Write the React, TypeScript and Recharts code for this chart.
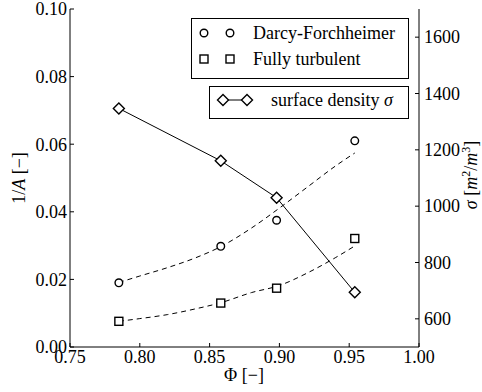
import { ComposedChart, Line, Scatter, XAxis, YAxis } from "recharts";

const FONT = '"Liberation Serif", "Times New Roman", serif';
const FS = 18;

// measured points
const phi = [0.785, 0.858, 0.898, 0.954];
const darcy = [0.019, 0.0298, 0.0375, 0.061];
const turbulent = [0.0076, 0.013, 0.0174, 0.0321];
const sigma = [1347, 1161, 1030, 694];

// dashed fit curves
const fitPhi = [0.785, 0.8, 0.82, 0.84, 0.858, 0.88, 0.9, 0.92, 0.94, 0.954];
const darcyFit = [0.0191, 0.021, 0.0235, 0.0264, 0.0297, 0.0352, 0.0411, 0.0473, 0.0535, 0.0574];
const turbulentFit = [0.0076, 0.0084, 0.0096, 0.0113, 0.0131, 0.0161, 0.0182, 0.0219, 0.0264, 0.0299];

const xTicks = [0.75, 0.8, 0.85, 0.9, 0.95, 1.0];
const leftTicks = [0, 0.02, 0.04, 0.06, 0.08, 0.1];
const rightTicks = [600, 800, 1000, 1200, 1400, 1600];

const toPts = (xs: number[], ys: number[]) => xs.map((x, i) => ({ x, y: ys[i] }));

const darcyPts = toPts(phi, darcy);
const turbPts = toPts(phi, turbulent);
const sigmaPts = toPts(phi, sigma);
const darcyFitPts = toPts(fitPhi, darcyFit);
const turbFitPts = toPts(fitPhi, turbulentFit);

const TICK = 4;
const textProps = { fontFamily: FONT, fontSize: FS, fill: "#000" };

function LeftTick({ x, y, payload }: any) {
  const edge = x + 3;
  return (
    <g>
      <line x1={edge} x2={edge + TICK} y1={y} y2={y} stroke="#000" />
      <text x={x} y={y} dy="0.35em" textAnchor="end" {...textProps}>
        {payload.value.toFixed(2)}
      </text>
    </g>
  );
}

function RightTick({ x, y, payload }: any) {
  const edge = x - 5;
  return (
    <g>
      <line x1={edge} x2={edge - TICK} y1={y} y2={y} stroke="#000" />
      <text x={x} y={y} dy="0.35em" textAnchor="start" {...textProps}>
        {payload.value}
      </text>
    </g>
  );
}

function BottomTick({ x, y, payload }: any) {
  return (
    <g>
      <line x1={x} x2={x} y1={y} y2={y - TICK} stroke="#000" />
      <text x={x} y={y + 16} textAnchor="middle" {...textProps}>
        {payload.value.toFixed(2)}
      </text>
    </g>
  );
}

function TopTick({ x, y }: any) {
  return <line x1={x} x2={x} y1={y} y2={y + TICK} stroke="#000" />;
}

const circle = (p: any) => (
  <circle cx={p.cx} cy={p.cy} r={3.8} fill="#fff" stroke="#000" strokeWidth={1.4} />
);
const square = (p: any) => (
  <rect x={p.cx - 4} y={p.cy - 4} width={8} height={8} fill="#fff" stroke="#000" strokeWidth={1.4} />
);
const diamond = (p: any) => (
  <path
    key={`d-${p.index}`}
    d={`M${p.cx},${p.cy - 5.5}L${p.cx + 5.5},${p.cy}L${p.cx},${p.cy + 5.5}L${p.cx - 5.5},${p.cy}Z`}
    fill="#fff"
    stroke="#000"
    strokeWidth={1.4}
  />
);

function Legends() {
  return (
    <svg width={482} height={392} style={{ position: "absolute", left: 0, top: 0, pointerEvents: "none" }}>
      <rect x={191.5} y={18.5} width={217} height={60} fill="#fff" stroke="#000" />
      <circle cx={204} cy={33} r={3.8} fill="#fff" stroke="#000" strokeWidth={1.4} />
      <circle cx={230} cy={33} r={3.8} fill="#fff" stroke="#000" strokeWidth={1.4} />
      <text x={253} y={39} {...textProps}>Darcy-Forchheimer</text>
      <rect x={200} y={55} width={8} height={8} fill="#fff" stroke="#000" strokeWidth={1.4} />
      <rect x={226} y={55} width={8} height={8} fill="#fff" stroke="#000" strokeWidth={1.4} />
      <text x={253} y={65} {...textProps}>Fully turbulent</text>

      <rect x={209.5} y={86.5} width={199} height={32} fill="#fff" stroke="#000" />
      <line x1={223} x2={247} y1={100} y2={100} stroke="#000" />
      {diamond({ cx: 223, cy: 100, index: "l1" })}
      {diamond({ cx: 247, cy: 100, index: "l2" })}
      <text x={271} y={106} {...textProps}>
        surface density <tspan fontStyle="italic">σ</tspan>
      </text>
    </svg>
  );
}

export default function App() {
  return (
    <div style={{ position: "absolute", left: 0, top: 0, width: 482, height: 392, background: "#fff" }}>
      <ComposedChart width={482} height={392} margin={{ top: 9, right: 0, bottom: 0, left: 0 }}>
        <XAxis
          xAxisId="bottom"
          dataKey="x"
          type="number"
          domain={[0.75, 1]}
          ticks={xTicks}
          height={45}
          tickSize={0}
          tickMargin={0}
          tick={<BottomTick />}
          axisLine={{ stroke: "#000" }}
          interval={0}
          label={{
            content: () => (
              <text x={244} y={381} textAnchor="middle" {...textProps}>
                Φ [−]
              </text>
            ),
          }}
        />
        <XAxis
          xAxisId="top"
          orientation="top"
          dataKey="x"
          type="number"
          domain={[0.75, 1]}
          ticks={xTicks}
          height={0}
          tickSize={0}
          tickMargin={0}
          tick={<TopTick />}
          axisLine={{ stroke: "#000" }}
          interval={0}
        />
        <YAxis
          yAxisId="left"
          type="number"
          domain={[0, 0.1]}
          ticks={leftTicks}
          width={70}
          tickSize={0}
          tickMargin={3}
          tick={<LeftTick />}
          axisLine={{ stroke: "#000" }}
          interval={0}
          label={{
            content: () => (
              <text transform="translate(25,178) rotate(-90)" textAnchor="middle" {...textProps}>
                1/<tspan fontStyle="italic">A</tspan> [−]
              </text>
            ),
          }}
        />
        <YAxis
          yAxisId="right"
          orientation="right"
          type="number"
          domain={[500, 1700]}
          ticks={rightTicks}
          width={63}
          tickSize={0}
          tickMargin={5}
          tick={<RightTick />}
          axisLine={{ stroke: "#000" }}
          interval={0}
          label={{
            content: () => (
              <text transform="translate(477,175) rotate(-90)" textAnchor="middle" {...textProps}>
                <tspan fontStyle="italic">σ</tspan> [<tspan fontStyle="italic">m</tspan>
                <tspan fontSize={12} dy={-7}>2</tspan>
                <tspan dy={7}>/</tspan>
                <tspan fontStyle="italic">m</tspan>
                <tspan fontSize={12} dy={-7}>3</tspan>
                <tspan dy={7}>]</tspan>
              </text>
            ),
          }}
        />
        <Line
          xAxisId="bottom"
          yAxisId="left"
          data={darcyFitPts}
          dataKey="y"
          type="monotone"
          stroke="#000"
          strokeWidth={1}
          strokeDasharray="5 4"
          dot={false}
          activeDot={false}
          isAnimationActive={false}
        />
        <Line
          xAxisId="bottom"
          yAxisId="left"
          data={turbFitPts}
          dataKey="y"
          type="monotone"
          stroke="#000"
          strokeWidth={1}
          strokeDasharray="5 4"
          dot={false}
          activeDot={false}
          isAnimationActive={false}
        />
        <Scatter xAxisId="bottom" yAxisId="left" data={darcyPts} dataKey="y" shape={circle} isAnimationActive={false} />
        <Scatter xAxisId="bottom" yAxisId="left" data={turbPts} dataKey="y" shape={square} isAnimationActive={false} />
        <Line
          xAxisId="bottom"
          yAxisId="right"
          data={sigmaPts}
          dataKey="y"
          type="linear"
          stroke="#000"
          strokeWidth={1}
          dot={diamond}
          activeDot={false}
          isAnimationActive={false}
        />
      </ComposedChart>
      <Legends />
    </div>
  );
}
